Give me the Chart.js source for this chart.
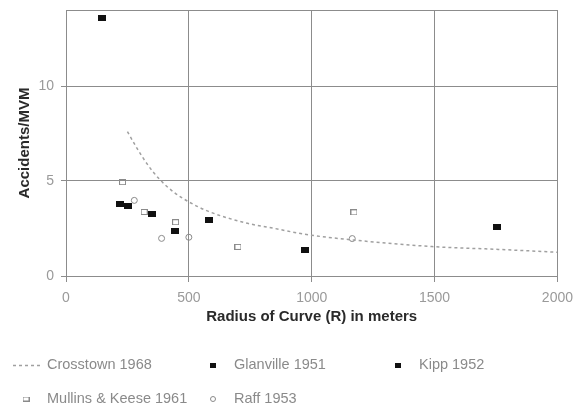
<!DOCTYPE html>
<html>
<head>
<meta charset="utf-8">
<script src="https://cdn.jsdelivr.net/npm/chart.js@4"></script>
<style>
    body { margin: 0; background: #fff; }
    #wrap { position: relative; width: 581px; height: 406px; }
</style>
</head>
<body>
<div id="wrap"><canvas id="curveChart"></canvas></div>
<script>
// Crosstown 1968 fitted curve
const crosstownRadius = [250, 290, 330, 380, 440, 500, 580, 730, 850, 970, 1165, 1490, 1760, 2000];
const crosstownRate = [7.6, 6.7, 5.9, 5.1, 4.4, 3.9, 3.4, 2.8, 2.5, 2.2, 1.9, 1.55, 1.4, 1.25];

// Observed accident rates by study
const glanvilleRadius = [145, 220, 253, 352, 443, 583, 972];
const glanvilleRate = [13.6, 3.81, 3.7, 3.28, 2.35, 2.97, 1.35];
const kippRadius = [1753];
const kippRate = [2.56];
const mullinsRadius = [230, 318, 446, 700, 1172];
const mullinsRate = [4.94, 3.37, 2.83, 1.53, 3.35];
const raffRadius = [278, 389, 500, 1165];
const raffRate = [3.98, 1.98, 2.04, 1.97];

const xTicks = [0, 500, 1000, 1500, 2000];
const yTicks = [0, 5, 10];

const FONT = '"Liberation Sans", Arial, sans-serif';

function pairs(xs, ys) {
    return xs.map((x, i) => ({ x: x, y: ys[i] }));
}

// small box marker drawn on its own canvas
function makeBox(w, h, fill, stroke) {
    const c = document.createElement('canvas');
    c.width = w;
    c.height = h;
    const g = c.getContext('2d');
    if (fill) {
        g.fillStyle = fill;
        g.fillRect(0, 0, w, h);
    }
    if (stroke) {
        g.strokeStyle = stroke;
        g.lineWidth = 1;
        g.strokeRect(0.5, 0.5, w - 1, h - 1);
    }
    return c;
}

const blackBox = makeBox(8, 6, '#111', null);
const hollowBox = makeBox(7, 6, null, '#8a8a8a');
const legendBlack = makeBox(6, 5, '#111', null);
const legendHollow = makeBox(7, 5, null, '#8a8a8a');

// legend slots: [col, row]
const legendX = [26, 213, 398];
const legendY = [365, 399];

const frameAndLegend = {
    id: 'frameAndLegend',
    afterDraw(chart) {
        const ctx = chart.ctx;
        const a = chart.chartArea;
        ctx.save();
        ctx.strokeStyle = '#8c8c8c';
        ctx.lineWidth = 1;
        ctx.strokeRect(Math.round(a.left) + 0.5, Math.round(a.top) + 0.5,
            Math.round(a.right - a.left), Math.round(a.bottom - a.top));

        // axis titles
        ctx.fillStyle = '#2a2a2a';
        ctx.font = 'bold 15px ' + FONT;
        ctx.textAlign = 'center';
        ctx.textBaseline = 'middle';
        ctx.fillText('Radius of Curve (R) in meters', (a.left + a.right) / 2, 317);
        ctx.save();
        ctx.translate(25, (a.top + a.bottom) / 2);
        ctx.rotate(-Math.PI / 2);
        ctx.fillText('Accidents/MVM', 0, 0);
        ctx.restore();

        // legend in a three column grid
        ctx.font = '14.5px ' + FONT;
        ctx.textAlign = 'left';
        chart.data.datasets.forEach((ds, i) => {
            const col = i % 3;
            const row = Math.floor(i / 3);
            const cx = legendX[col];
            const cy = legendY[row];
            if (ds.showLine) {
                ctx.strokeStyle = ds.borderColor;
                ctx.lineWidth = ds.borderWidth;
                ctx.setLineDash(ds.borderDash);
                ctx.beginPath();
                ctx.moveTo(cx - 13, cy + 0.5);
                ctx.lineTo(cx + 14, cy + 0.5);
                ctx.stroke();
                ctx.setLineDash([]);
            } else {
                ctx.fillStyle = '#fff';
                ctx.strokeStyle = ds.borderColor || '#8a8a8a';
                ctx.lineWidth = 1;
                Chart.helpers.drawPoint(ctx, {
                    pointStyle: ds.legendStyle,
                    radius: 2.5,
                    rotation: 0,
                    borderWidth: 1
                }, cx, cy);
            }
            ctx.fillStyle = '#8a8a8a';
            ctx.fillText(ds.label, cx + 21, cy);
        });
        ctx.restore();
    }
};

const ctxCurve = document.getElementById('curveChart').getContext('2d');
const curveChart = new Chart(ctxCurve, {
    type: 'scatter',
    data: {
        datasets: [{
            label: 'Crosstown 1968',
            data: pairs(crosstownRadius, crosstownRate),
            showLine: true,
            borderColor: '#a0a0a0',
            borderWidth: 1.5,
            borderDash: [3, 3],
            pointRadius: 0,
            cubicInterpolationMode: 'monotone'
        }, {
            label: 'Glanville 1951',
            data: pairs(glanvilleRadius, glanvilleRate),
            pointStyle: blackBox,
            legendStyle: legendBlack
        }, {
            label: 'Kipp 1952',
            data: pairs(kippRadius, kippRate),
            pointStyle: blackBox,
            legendStyle: legendBlack
        }, {
            label: 'Mullins & Keese 1961',
            data: pairs(mullinsRadius, mullinsRate),
            pointStyle: hollowBox,
            legendStyle: legendHollow
        }, {
            label: 'Raff 1953',
            data: pairs(raffRadius, raffRate),
            pointStyle: 'circle',
            legendStyle: 'circle',
            pointRadius: 3,
            borderColor: '#8a8a8a',
            backgroundColor: 'rgba(255,255,255,0)',
            borderWidth: 1
        }]
    },
    options: {
        responsive: true,
        maintainAspectRatio: false,
        animation: false,
        layout: { padding: { top: 10, right: 23, bottom: 90, left: 0 } },
        plugins: {
            legend: { display: false },
            tooltip: { enabled: false }
        },
        scales: {
            x: {
                type: 'linear',
                min: 0,
                max: 2000,
                afterFit(scale) { scale.height = 40; },
                afterBuildTicks(scale) { scale.ticks = xTicks.map(v => ({ value: v })); },
                grid: { color: '#8c8c8c', lineWidth: 1, tickLength: 6 },
                border: { color: '#8c8c8c' },
                ticks: {
                    padding: 8,
                    color: '#9a9a9a',
                    font: { family: FONT, size: 14 },
                    maxRotation: 0,
                    callback: v => String(v)
                }
            },
            y: {
                min: 0,
                max: 14,
                afterFit(scale) {
                    scale.width = 66;
                    scale.paddingTop = 0;
                    scale.paddingBottom = 0;
                },
                afterBuildTicks(scale) { scale.ticks = yTicks.map(v => ({ value: v })); },
                grid: { color: '#8c8c8c', lineWidth: 1, tickLength: 5 },
                border: { color: '#8c8c8c' },
                ticks: {
                    padding: 7,
                    color: '#9a9a9a',
                    font: { family: FONT, size: 14 },
                    callback: v => String(v)
                }
            }
        }
    },
    plugins: [frameAndLegend]
});
</script>
</body>
</html>
